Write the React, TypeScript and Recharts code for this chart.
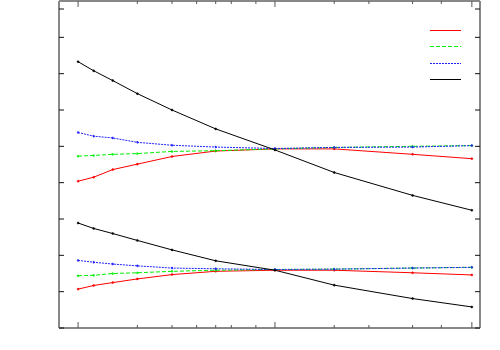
import { LineChart, Line, XAxis, YAxis, Legend } from 'recharts';

const xValues = [1, 1.2, 1.5, 2, 3, 5, 10, 20, 50, 100];

const redHigh = [4.04, 4.15, 4.36, 4.51, 4.72, 4.87, 4.93, 4.93, 4.78, 4.66];
const greenHigh = [4.73, 4.75, 4.78, 4.8, 4.86, 4.88, 4.93, 4.97, 5.0, 5.02];
const blueHigh = [5.38, 5.28, 5.23, 5.11, 5.03, 4.98, 4.94, 4.97, 4.98, 5.02];
const blackHigh = [7.33, 7.08, 6.81, 6.45, 6.0, 5.48, 4.9, 4.28, 3.65, 3.24];

const redLow = [1.07, 1.17, 1.25, 1.35, 1.47, 1.56, 1.59, 1.59, 1.52, 1.46];
const greenLow = [1.44, 1.45, 1.5, 1.52, 1.56, 1.59, 1.61, 1.62, 1.65, 1.67];
const blueLow = [1.86, 1.81, 1.76, 1.71, 1.65, 1.63, 1.61, 1.62, 1.65, 1.67];
const blackLow = [2.89, 2.74, 2.6, 2.41, 2.15, 1.85, 1.59, 1.18, 0.81, 0.58];

const xTicks = [1, 2, 3, 4, 5, 6, 7, 8, 9, 10, 20, 30, 40, 50, 60, 70, 80, 90, 100];
const yTicks = [0, 1, 2, 3, 4, 5, 6, 7, 8, 9];

const data = xValues.map((x, i) => ({
    x,
    redHigh: redHigh[i],
    greenHigh: greenHigh[i],
    blueHigh: blueHigh[i],
    blackHigh: blackHigh[i],
    redLow: redLow[i],
    greenLow: greenLow[i],
    blueLow: blueLow[i],
    blackLow: blackLow[i],
}));

const seriesStyle: Record<string, { color: string; dash?: string }> = {
    red: { color: '#ff0000' },
    green: { color: '#00ee00', dash: '4 2' },
    blue: { color: '#2020ff', dash: '2 1' },
    black: { color: '#000000' },
};

// plot box edges (from the margins below)
const PLOT = { left: 59, right: 480, top: 1, bottom: 328 };
const frame = '#888888';
const isMajor = (v: number) => Math.abs(Math.log10(v) - Math.round(Math.log10(v))) < 1e-6;

const BottomTick = (props: any) => {
    const len = isMajor(props.payload.value) ? 6 : 3;
    return <line x1={props.x} x2={props.x} y1={PLOT.bottom} y2={PLOT.bottom - len} stroke="#555" strokeWidth={1} />;
};
const TopTick = (props: any) => {
    const len = isMajor(props.payload.value) ? 6 : 3;
    return <line x1={props.x} x2={props.x} y1={PLOT.top} y2={PLOT.top + len} stroke="#555" strokeWidth={1} />;
};
const LeftTick = (props: any) => (
    <line x1={PLOT.left} x2={PLOT.left + 5} y1={props.y} y2={props.y} stroke="#111" strokeWidth={1} />
);
const RightTick = (props: any) => (
    <line x1={PLOT.right} x2={PLOT.right - 5} y1={props.y} y2={props.y} stroke="#111" strokeWidth={1} />
);

const legendRows = [2.5, 18.5, 35.5, 51.5];

const LegendBox = () => (
    <svg width={40} height={60} style={{ display: 'block' }}>
        {['red', 'green', 'blue', 'black'].map((k, i) => (
            <line
                key={k}
                x1={3}
                x2={34}
                y1={legendRows[i]}
                y2={legendRows[i]}
                stroke={seriesStyle[k].color}
                strokeDasharray={seriesStyle[k].dash}
                strokeWidth={1}
            />
        ))}
    </svg>
);

const keys = ['redHigh', 'greenHigh', 'blueHigh', 'blackHigh', 'redLow', 'greenLow', 'blueLow', 'blackLow'];

export default function App() {
    return (
        <div style={{ position: 'fixed', left: 0, top: 0, width: 500, height: 350, background: '#fff' }}>
            <LineChart width={500} height={350} data={data} margin={{ top: 0, right: 19, bottom: 21, left: 58 }}>
                <XAxis
                    dataKey="x"
                    type="number"
                    scale="log"
                    domain={[0.8, 110]}
                    ticks={xTicks}
                    allowDataOverflow
                    height={1}
                    tickSize={0}
                    tickMargin={0}
                    tickLine={false}
                    tick={<BottomTick />}
                    stroke={frame}
                    strokeWidth={2}
                />
                <XAxis
                    xAxisId="top"
                    orientation="top"
                    dataKey="x"
                    type="number"
                    scale="log"
                    domain={[0.8, 110]}
                    ticks={xTicks}
                    allowDataOverflow
                    height={1}
                    tickSize={0}
                    tickMargin={0}
                    tickLine={false}
                    tick={<TopTick />}
                    stroke={frame}
                    strokeWidth={2}
                />
                <YAxis
                    type="number"
                    domain={[0, 9]}
                    ticks={yTicks}
                    allowDataOverflow
                    width={1}
                    tickSize={0}
                    tickMargin={0}
                    tickLine={false}
                    tick={<LeftTick />}
                    stroke={frame}
                    strokeWidth={2}
                />
                <YAxis
                    yAxisId="right"
                    orientation="right"
                    type="number"
                    domain={[0, 9]}
                    ticks={yTicks}
                    allowDataOverflow
                    width={1}
                    tickSize={0}
                    tickMargin={0}
                    tickLine={false}
                    tick={<RightTick />}
                    stroke={frame}
                    strokeWidth={2}
                />
                <Legend
                    layout="vertical"
                    align="center"
                    verticalAlign="middle"
                    content={<LegendBox />}
                    wrapperStyle={{ position: 'absolute', left: 427, top: 28, width: 40, height: 60 }}
                />
                {keys.map((k) => {
                    const s = seriesStyle[k.replace(/High|Low/, '')];
                    return (
                        <Line
                            key={k}
                            dataKey={k}
                            type="linear"
                            stroke={s.color}
                            strokeDasharray={s.dash}
                            strokeWidth={1}
                            dot={{ r: 1, fill: s.color, stroke: s.color, strokeWidth: 0.5 }}
                            legendType="none"
                            isAnimationActive={false}
                        />
                    );
                })}
            </LineChart>
        </div>
    );
}
